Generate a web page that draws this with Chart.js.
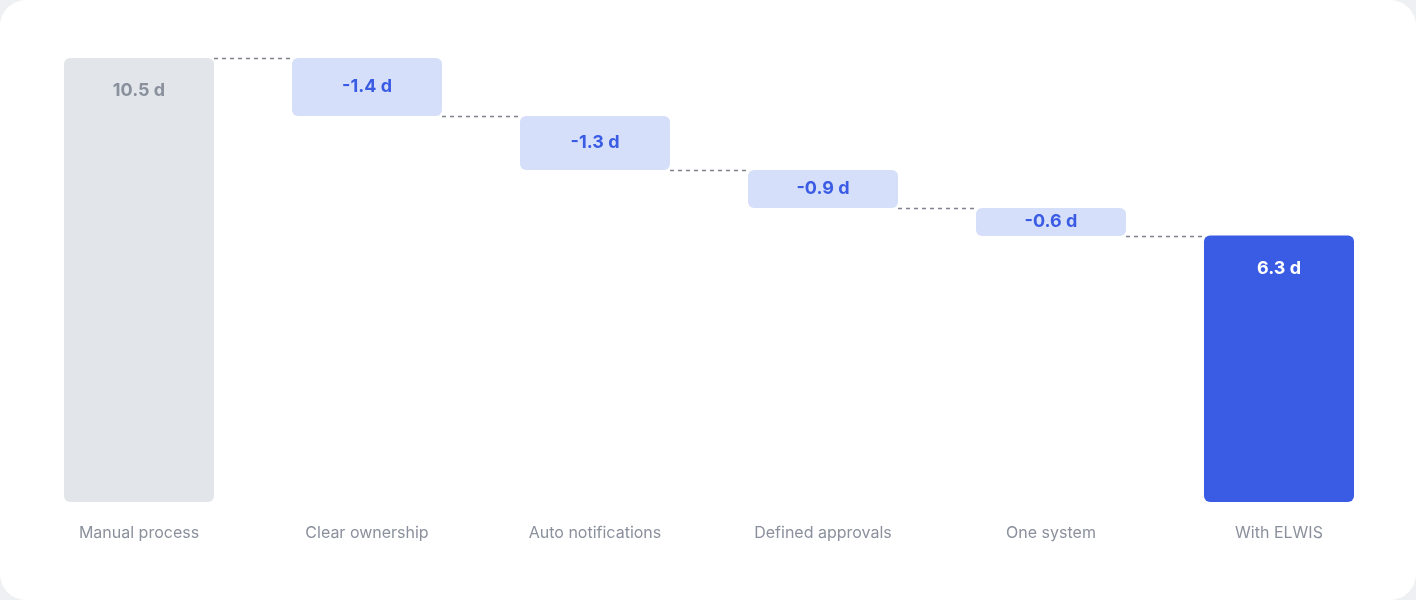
<!DOCTYPE html>
<html>
<head>
<meta charset="utf-8">
<script src="https://cdn.jsdelivr.net/npm/chart.js@4"></script>
<style>
  html, body { margin: 0; padding: 0; background: #eef0f3; }
  .card { position: absolute; left: 0; top: 0; width: 1416px; height: 600px; background: #fff; border-radius: 26px; }
  canvas { position: absolute; left: 0; top: 0; }
</style>
</head>
<body>
<div class="card"><canvas id="wf" width="1416" height="600"></canvas></div>
<script>
// categories and values
const categories = ['Manual process', 'Clear ownership', 'Auto notifications', 'Defined approvals', 'One system', 'With ELWIS'];
const startTotal = 10.5;
const deltas = [-1.37, -1.28, -0.9, -0.66];
const deltaLabels = ['-1.4 d', '-1.3 d', '-0.9 d', '-0.6 d'];
const endTotal = 6.3;
const endLabels = ['10.5 d', '6.3 d'];

// floating ranges built from the arrays
const ranges = [[0, startTotal]];
let running = startTotal;
deltas.forEach(d => { ranges.push([running + d, running]); running += d; });
ranges.push([0, endTotal]);
const labels = [endLabels[0], ...deltaLabels, endLabels[1]];

const fills = ['#e2e5ea', '#d6dffa', '#d6dffa', '#d6dffa', '#d6dffa', '#3a5ce4'];
const textColors = ['#8a919d', '#3a5ce4', '#3a5ce4', '#3a5ce4', '#3a5ce4', '#ffffff'];

const waterfallDecor = {
  id: 'waterfallDecor',
  afterDatasetsDraw(chart) {
    const { ctx } = chart;
    const meta = chart.getDatasetMeta(0);
    const y = chart.scales.y;
    // connectors
    ctx.save();
    ctx.strokeStyle = '#7d828c';
    ctx.lineWidth = 1.5;
    ctx.setLineDash([4, 4]);
    for (let i = 0; i < meta.data.length - 1; i++) {
      const a = meta.data[i], b = meta.data[i + 1];
      const level = i === 0 ? ranges[0][1] : ranges[i][0];
      const py = Math.round(y.getPixelForValue(level)) + 0.5;
      ctx.beginPath();
      ctx.moveTo(a.x + a.width / 2, py);
      ctx.lineTo(b.x - b.width / 2, py);
      ctx.stroke();
    }
    ctx.restore();
    // labels
    ctx.save();
    ctx.font = 'bold 18px Inter, sans-serif';
    ctx.textAlign = 'center';
    ctx.textBaseline = 'middle';
    meta.data.forEach((bar, i) => {
      const top = Math.min(bar.y, bar.base);
      const bottom = Math.max(bar.y, bar.base);
      const total = i === 0 || i === meta.data.length - 1;
      const ty = total ? top + 33 : (top + bottom) / 2;
      ctx.fillStyle = textColors[i];
      ctx.fillText(labels[i], bar.x, ty);
    });
    ctx.restore();
  }
};

new Chart(document.getElementById('wf'), {
  type: 'bar',
  data: {
    labels: categories,
    datasets: [{
      data: ranges,
      backgroundColor: fills,
      borderRadius: 6,
      borderSkipped: false,
      barPercentage: 0.658,
      categoryPercentage: 1
    }]
  },
  options: {
    responsive: false,
    animation: false,
    layout: { padding: { left: 25, right: 23, top: 58 } },
    scales: {
      x: {
        grid: { display: false },
        border: { display: false },
        ticks: { color: '#8a909c', font: { family: 'Inter', size: 16 }, padding: 14 },
        afterFit(scale) { scale.height = 98; }
      },
      y: { display: false, min: 0, max: 10.5 }
    },
    plugins: { legend: { display: false }, tooltip: { enabled: false } }
  },
  plugins: [waterfallDecor]
});
</script>
</body>
</html>
